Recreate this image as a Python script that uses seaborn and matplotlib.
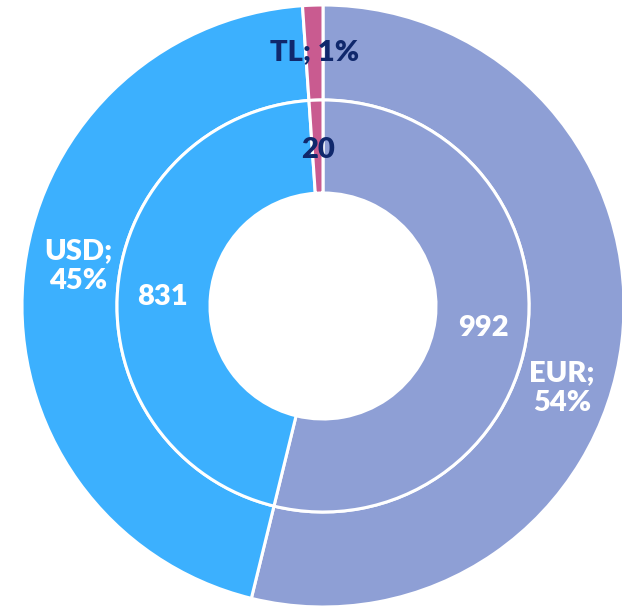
import matplotlib
matplotlib.use("Agg")
import matplotlib.pyplot as plt
import seaborn as sns

# Currency breakdown
currencies = ["EUR", "USD", "TL"]
amounts = [992, 831, 20]
ring_colors = ["#8e9fd5", "#3cb0fe", "#c95b90"]

sns.set_theme(style="white")
plt.rcParams["font.family"] = ["Lato", "DejaVu Sans"]

fig = plt.figure(figsize=(6.22, 6.10), dpi=100)
ax = fig.add_axes([0, 0, 1, 1])

outer_r, inner_r, hole_r = 301, 206, 113
edge = dict(edgecolor="white", linewidth=2.2)

# Outer ring: shares
ax.pie(amounts, radius=outer_r, startangle=90, counterclock=False,
       colors=ring_colors, wedgeprops=dict(width=outer_r - inner_r, **edge))
# Inner ring: amounts
ax.pie(amounts, radius=inner_r, startangle=90, counterclock=False,
       colors=ring_colors, wedgeprops=dict(width=inner_r - hole_r, **edge))

total = sum(amounts)
shares = [round(100 * a / total) for a in amounts]

# label placement (offsets from the ring centre)
outer_pos = [(239, -82), (-245, 40), (-8, 254)]
inner_pos = [(160, -22), (-161, 9), (-5, 156)]
text_colors = ["white", "white", "#10286c"]

for name, share, amt, op, ip, tc in zip(currencies, shares, amounts,
                                        outer_pos, inner_pos, text_colors):
    outer_label = f"{name}; {share}%" if name == "TL" else f"{name};\n{share}%"
    ax.text(op[0], op[1], outer_label, ha="center", va="center",
            color=tc, fontsize=21, fontweight="heavy", linespacing=1.2)
    ax.text(ip[0], ip[1], f"{amt}", ha="center", va="center",
            color=tc, fontsize=21, fontweight="heavy")

ax.set_xlim(-323, 299)
ax.set_ylim(-304, 306)
ax.set_aspect("equal")
ax.axis("off")

fig.savefig("out.png", dpi=100, facecolor="white")
